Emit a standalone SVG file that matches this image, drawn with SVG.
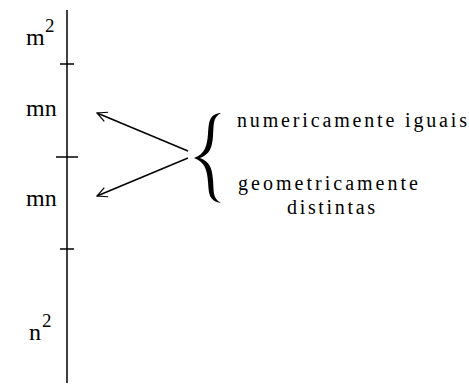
<svg xmlns="http://www.w3.org/2000/svg" width="469" height="385" viewBox="0 0 469 385">
<defs>
<marker id="ah" viewBox="0 0 12 12" refX="11" refY="6" markerWidth="12" markerHeight="12" markerUnits="userSpaceOnUse" orient="auto">
<path d="M1,1 L11,6 L1,11" fill="none" stroke="#000" stroke-width="1.2"/>
</marker>
</defs>
<rect width="469" height="385" fill="#fff"/>
<g id="axis" stroke="#000" stroke-width="1.5" fill="none">
<line x1="67" y1="10" x2="67" y2="383"/>
<line x1="60" y1="64" x2="74" y2="64"/>
<line x1="56" y1="157" x2="78" y2="157"/>
<line x1="60" y1="249" x2="74" y2="249"/>
</g>
<g id="m2"><text x="26" y="45" style="font-family:'Liberation Serif',serif;font-size:24px">m</text><text x="45" y="32" style="font-family:'Liberation Serif',serif;font-size:19px">2</text></g>
<g id="mn1"><text x="26" y="116" style="font-family:'Liberation Serif',serif;font-size:24px">mn</text></g>
<g id="mn2"><text x="26" y="206" style="font-family:'Liberation Serif',serif;font-size:24px">mn</text></g>
<g id="n2"><text x="29" y="340" style="font-family:'Liberation Serif',serif;font-size:24px">n</text><text x="42" y="327" style="font-family:'Liberation Serif',serif;font-size:19px">2</text></g>
<g id="label-top"><text x="237" y="127" style="font-family:'Liberation Serif',serif;font-size:20px" textLength="230" lengthAdjust="spacing">numericamente iguais</text></g>
<g id="label-bottom">
<text x="238" y="190" style="font-family:'Liberation Serif',serif;font-size:20px" textLength="180" lengthAdjust="spacing">geometricamente</text>
<text x="287" y="214" style="font-family:'Liberation Serif',serif;font-size:20px" textLength="88" lengthAdjust="spacing">distintas</text>
</g>
<g id="connectors" stroke="#000" stroke-width="1.5" fill="none">
<line x1="188" y1="151" x2="97" y2="113" marker-end="url(#ah)"/>
<line x1="188" y1="158" x2="97" y2="196" marker-end="url(#ah)"/>
</g>
<g id="brace">
<path d="M221,113 C208,114 209,124 208,134 C207,146 205,154 194,158 C205,162 207,170 208,182 C209,192 208,201 221,203 C212,198 214,190 213,180 C212,168 210,162 200,158 C210,154 212,148 213,136 C214,126 212,118 221,113 Z" fill="#000"/>
</g>
</svg>
